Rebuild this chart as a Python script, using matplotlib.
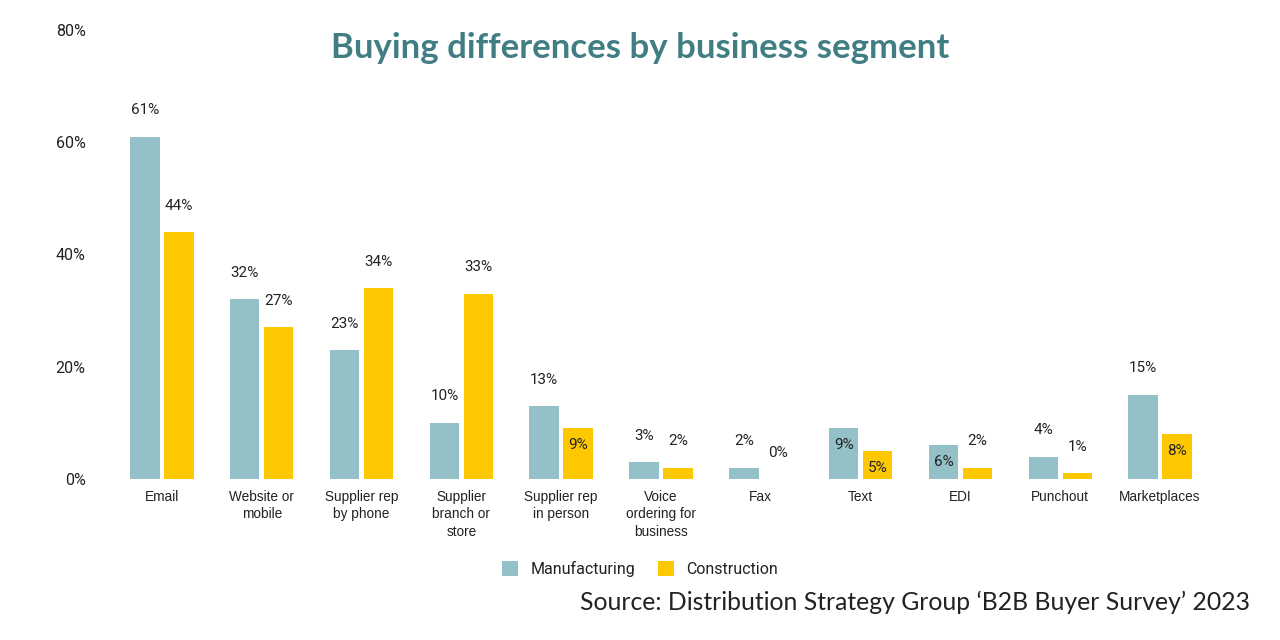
import matplotlib.pyplot as plt
import numpy as np

categories = [
    "Email", "Website or\nmobile", "Supplier rep\nby phone", "Supplier\nbranch or\nstore",
    "Supplier rep\nin person", "Voice\nordering for\nbusiness", "Fax", "Text", "EDI",
    "Punchout", "Marketplaces",
]
manufacturing = [61, 32, 23, 10, 13, 3, 2, 9, 6, 4, 15]
construction = [44, 27, 34, 33, 9, 2, 0, 5, 2, 1, 8]
# labels drawn inside the bar instead of above it
manufacturing_inside = [False, False, False, False, False, False, False, True, True, False, False]
construction_inside = [False, False, False, False, True, False, False, True, False, False, True]
yticks = [0, 20, 40, 60, 80]

MANU_COLOR = "#94c1c7"
CONS_COLOR = "#fec800"
TEXT_COLOR = "#222222"

fig = plt.figure(figsize=(12.8, 6.4), dpi=100)
ax = fig.add_axes([112 / 1280, 161 / 640, 1098 / 1280, 449 / 640])

x = np.arange(len(categories))
width = 0.295
off = 0.17
b1 = ax.bar(x - off, manufacturing, width, color=MANU_COLOR, label="Manufacturing")
b2 = ax.bar(x + off, construction, width, color=CONS_COLOR, label="Construction")

for bars, vals, inside in ((b1, manufacturing, manufacturing_inside), (b2, construction, construction_inside)):
    for bar, v, ins in zip(bars, vals, inside):
        cx = bar.get_x() + bar.get_width() / 2
        dy = -12 if ins else 19
        ax.annotate(f"{v}%", (cx, v), xytext=(0, dy), textcoords="offset points",
                    ha="center", va="center", fontsize=11, family="Roboto", color=TEXT_COLOR)

ax.set_xlim(-0.5, len(categories) - 0.5)
ax.set_ylim(0, 80)
ax.set_yticks(yticks)
ax.set_yticklabels([f"{t}%" for t in yticks], family="Roboto", fontsize=11.5, color=TEXT_COLOR)
ax.set_xticks(x)
ax.set_xticklabels(categories, family="Liberation Sans", fontsize=9.8, color=TEXT_COLOR,
                   linespacing=1.3, va="top")
ax.tick_params(axis="y", length=0, pad=19)
ax.tick_params(axis="x", length=0, pad=8)
for s in ax.spines.values():
    s.set_visible(False)

fig.text(0.5, 1 - 48 / 640, "Buying differences by business segment", ha="center", va="center",
         fontsize=25, fontweight="bold", family="Lato", color="#417e84")
fig.text(1250 / 1280, 1 - 602 / 640, "Source: Distribution Strategy Group \u2018B2B Buyer Survey\u2019 2023",
         ha="right", va="center", fontsize=17.8, family="Lato", color=TEXT_COLOR)

fig.legend(handles=[b1, b2], loc="center", bbox_to_anchor=(0.5, 1 - 569 / 640), ncol=2,
           frameon=False, prop={"family": "Roboto", "size": 11.5}, handlelength=1.0,
           handleheight=1.0, columnspacing=1.4, handletextpad=0.8, labelcolor=TEXT_COLOR)

fig.savefig("out.png", dpi=100)
